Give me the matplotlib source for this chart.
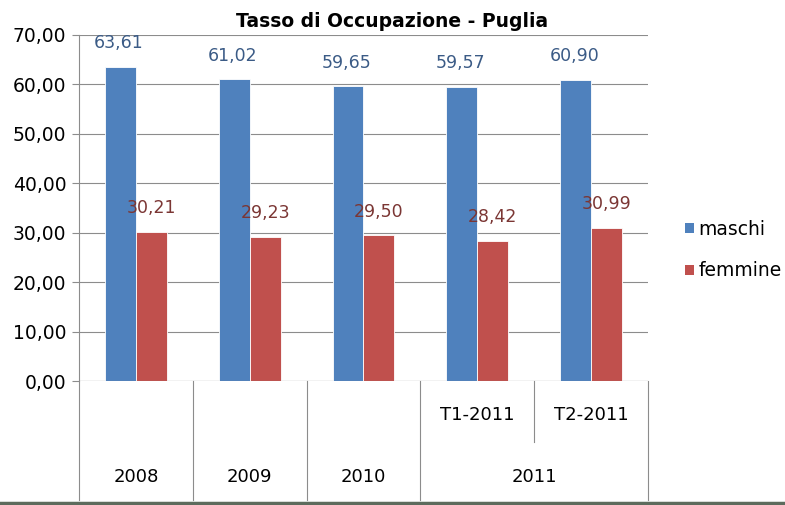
import matplotlib

matplotlib.use("Agg")
import matplotlib.pyplot as plt
import numpy as np
from matplotlib.lines import Line2D
from matplotlib.patches import Patch

plt.rcParams["font.family"] = ["DejaVu Sans"]

quarters = ["", "", "", "T1-2011", "T2-2011"]
years = ["2008", "2009", "2010", "2011"]
year_span = [1, 1, 1, 2]
maschi = [63.61, 61.02, 59.65, 59.57, 60.90]
femmine = [30.21, 29.23, 29.50, 28.42, 30.99]

BLUE = "#4f81bd"
RED = "#c0504d"
GRID = "#8c8c8c"


def fmt(v):
    return f"{v:.2f}".replace(".", ",")


fig = plt.figure(figsize=(7.85, 5.05), dpi=100)
ax = fig.add_axes([0.1006, 0.2455, 0.7249, 0.6852])

x = np.arange(len(maschi))
w = 0.272
ax.bar(x - w / 2, maschi, w, color=BLUE, edgecolor="white", lw=0.6, zorder=3)
ax.bar(x + w / 2, femmine, w, color=RED, edgecolor="white", lw=0.6, zorder=3)

for xi, v in zip(x, maschi):
    ax.annotate(fmt(v), (xi - w / 2, v), xytext=(-1, 17), textcoords="offset points",
                ha="center", va="center", fontsize=12.5, color="#3b5b86")
for xi, v in zip(x, femmine):
    ax.annotate(fmt(v), (xi + w / 2, v), xytext=(0, 17), textcoords="offset points",
                ha="center", va="center", fontsize=12.5, color="#7b3634")

ax.set_xlim(-0.5, len(maschi) - 0.5)
ax.set_ylim(0, 70)
ax.set_yticks(np.arange(0, 71, 10))
ax.set_yticklabels([fmt(v) for v in np.arange(0, 71, 10)])
ax.tick_params(axis="y", direction="out", length=5, width=0.8, color=GRID,
               labelsize=13.5, pad=4)
ax.set_xticks([])
ax.yaxis.grid(True, color=GRID, lw=0.8, zorder=0)
for s in ["top", "right", "bottom"]:
    ax.spines[s].set_visible(False)
ax.spines["left"].set_color(GRID)
ax.spines["left"].set_linewidth(0.8)
ax.axhline(0, color=GRID, lw=0.8, zorder=4)

# multi-level category axis
tr = ax.get_xaxis_transform()
y_bot = -0.344
y_mid = -0.176
ax.plot([-0.5, -0.5], [0, y_bot], transform=tr, color=GRID, lw=0.8, clip_on=False)
pos = -0.5
for yr, span in zip(years, year_span):
    ax.text(pos + span / 2, -0.277, yr, transform=tr, ha="center", va="center", fontsize=13)
    pos += span
    ax.plot([pos, pos], [0, y_bot], transform=tr, color=GRID, lw=0.8, clip_on=False)
for i, q in enumerate(quarters):
    if q:
        ax.text(i, -0.098, q, transform=tr, ha="center", va="center", fontsize=13)
ax.plot([3.5, 3.5], [0, y_mid], transform=tr, color=GRID, lw=0.8, clip_on=False)

fig.text(0.499, 0.958, "Tasso di Occupazione - Puglia", ha="center", va="center",
         fontsize=13.5, weight="bold")

handles = [Patch(facecolor=BLUE, edgecolor="none"), Patch(facecolor=RED, edgecolor="none")]
fig.legend(handles, ["maschi", "femmine"], loc="center left", bbox_to_anchor=(0.873, 0.505),
           frameon=False, fontsize=13.5, handlelength=0.45, handleheight=0.45,
           handletextpad=0.25, labelspacing=1.2, borderpad=0, borderaxespad=0)

fig.add_artist(Line2D([0, 1], [0.003, 0.003], transform=fig.transFigure, color="#5d6b5d", lw=2.5))

fig.savefig("out.png", dpi=100)
